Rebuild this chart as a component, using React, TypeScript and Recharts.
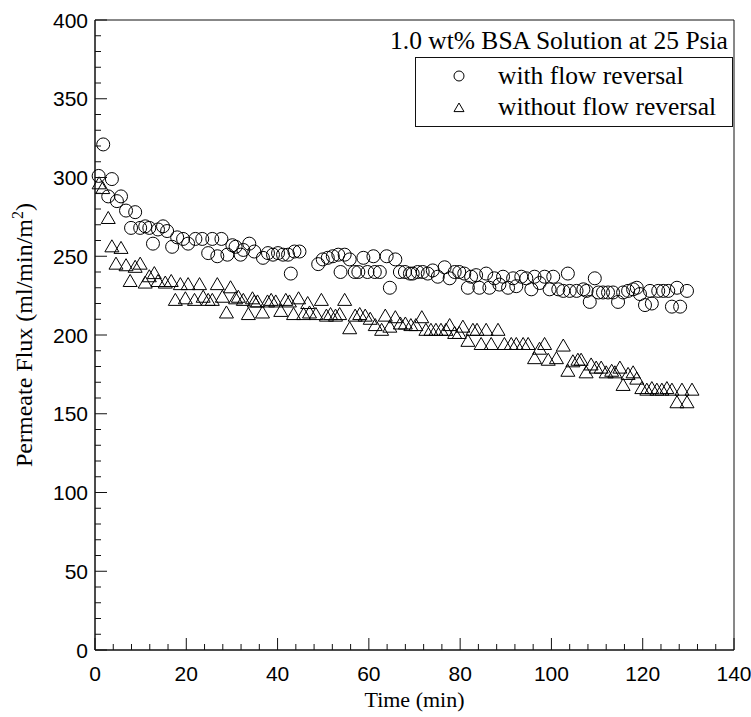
import React from 'react';
import { ScatterChart, Scatter, XAxis, YAxis, ReferenceArea, Legend } from 'recharts';

// with flow reversal (circles)
const withTime = [
  0.8, 1.8, 2.9, 3.7, 4.8, 5.7, 6.8, 7.9, 8.8, 9.9, 11, 11.9, 12.7, 13.8, 14.9, 15.8, 16.9, 18, 19.3, 20.4,
  22, 23.5, 24.8, 25.7, 26.8, 27.7, 29, 30.1, 30.8, 31.9, 32.5, 33.8, 34.9, 36.8, 37.9, 39, 40.1, 41.2, 42.3, 42.9,
  43.7, 44.8, 48.9, 49.9, 51, 52.1, 53.3, 53.8, 54.7, 55.8, 56.9, 57.7, 58.8, 59.7, 61, 61.3, 62.4, 63.9, 64.6, 65.8,
  66.8, 67.9, 69, 69.6, 70.7, 71.8, 72.9, 74, 75.1, 76.6, 77.7, 78.8, 79.8, 80.9, 81.7, 82.4, 83.5, 84.2, 85.7, 86.4,
  87.5, 88.6, 89.4, 90.5, 91.6, 92.3, 93.4, 94.5, 95.6, 96.3, 97.4, 98.5, 99.6, 100.4, 101.5, 102.6, 103.6, 104, 105.5, 107,
  107.7, 108.4, 109.5, 110.3, 111.3, 112.4, 113.5, 114.6, 115.7, 116.8, 117.9, 118.7, 119.4, 120.5, 121.6, 122, 123.4, 124.5, 125.6, 126.4,
  127.5, 128.2, 129.7,
];
const withFlux = [
  301, 321, 288, 299, 285, 288, 279, 268, 278, 268, 269, 268, 258, 267, 269, 266, 256, 262, 261, 258,
  261, 261, 252, 261, 250, 261, 251, 257, 256, 251, 254, 258, 253, 249, 252, 251, 252, 251, 251, 239,
  253, 253, 245, 248, 249, 250, 251, 240, 251, 248, 240, 240, 249, 240, 250, 240, 240, 250, 230, 248,
  240, 240, 239, 239, 240, 240, 239, 241, 237, 243, 236, 240, 240, 239, 230, 237, 238, 230, 239, 230,
  236, 232, 237, 230, 236, 231, 237, 236, 229, 237, 233, 237, 229, 237, 229, 228, 239, 228, 228, 229,
  228, 221, 236, 227, 227, 227, 227, 221, 227, 228, 229, 230, 226, 219, 228, 220, 228, 228, 228, 218,
  230, 218, 228,
];

// without flow reversal (triangles)
const withoutTime = [
  0.9, 1.7, 2.9, 3.7, 4.6, 5.7, 6.8, 7.7, 8.8, 9.9, 11, 11.9, 13, 13.8, 15.4, 16.7, 17.6, 18.7, 19.8, 20.4,
  21.8, 22.9, 23.7, 24.8, 25.7, 26.8, 27.9, 28.8, 29.7, 30.8, 31.4, 32.5, 33.6, 34.5, 34.9, 35.6, 36.7, 37.8, 38.6, 39.6,
  40.7, 41.8, 42.6, 43.5, 44.6, 45.7, 46.6, 47, 48.4, 49.6, 50.7, 51.6, 52.7, 53.6, 54.7, 55.8, 57, 58, 59.2, 60.3,
  61.4, 62.8, 63.6, 64.6, 65.8, 66.9, 68, 69.2, 70.3, 71.6, 72.5, 73.6, 74.7, 75.8, 76.9, 77.7, 78.8, 79.8, 80.6, 81.7,
  82.8, 83.7, 84.6, 85.7, 86.8, 88.3, 89.7, 91.2, 92.3, 93.8, 94.9, 96.3, 97.4, 98.5, 99.3, 101.1, 102.6, 103.6, 104.7, 105.8,
  106.5, 107.6, 108.7, 109.8, 110.9, 112, 113.2, 113.9, 115, 115.7, 116.8, 117.9, 118.7, 119.8, 120.9, 122, 123.1, 124.2, 125.3, 126.4,
  127.5, 128.6, 129.7, 130.8,
];
const withoutFlux = [
  296, 293, 274, 256, 245, 255, 244, 234, 243, 245, 233, 237, 239, 234, 233, 234, 222, 232, 223, 232,
  222, 232, 224, 222, 222, 232, 224, 214, 230, 223, 224, 222, 213, 223, 221, 221, 214, 221, 222, 221,
  215, 222, 221, 213, 223, 213, 220, 214, 213, 222, 212, 213, 212, 213, 222, 204, 212, 213, 212, 210,
  206, 203, 212, 205, 211, 207, 207, 206, 206, 211, 203, 203, 203, 203, 203, 206, 201, 201, 205, 196,
  203, 203, 194, 203, 194, 203, 194, 194, 194, 194, 194, 185, 191, 194, 184, 185, 193, 177, 183, 184,
  184, 176, 181, 179, 179, 176, 177, 176, 179, 168, 175, 176, 172, 166, 165, 166, 165, 165, 166, 165,
  157, 165, 157, 165,
];

const xMajor = [0, 20, 40, 60, 80, 100, 120, 140];
const yMajor = [0, 50, 100, 150, 200, 250, 300, 350, 400];
const xTicks = Array.from({ length: 36 }, (_, i) => i * 4);
const yTicks = Array.from({ length: 41 }, (_, i) => i * 10);

const withData = withTime.map((t, i) => ({ t, v: withFlux[i] }));
const withoutData = withoutTime.map((t, i) => ({ t, v: withoutFlux[i] }));

const SERIF = '"Liberation Serif", "Times New Roman", serif';
const SANS = '"Liberation Sans", Arial, sans-serif';
const INK = '#111';

const XTick = ({ x, y, payload }: any) => {
  const major = xMajor.includes(payload.value);
  return (
    <g>
      <line x1={x} x2={x} y1={y} y2={y - (major ? 12 : 6)} stroke={INK} />
      {major && (
        <text x={x} y={y + 31} textAnchor="middle" fontFamily={SANS} fontSize={21} fill="#000">
          {payload.value}
        </text>
      )}
    </g>
  );
};

const YTick = ({ x, y, payload }: any) => {
  const major = yMajor.includes(payload.value);
  return (
    <g>
      <line x1={x} x2={x + (major ? 12 : 6)} y1={y} y2={y} stroke={INK} />
      {major && (
        <text x={x - 7} y={y + 7.5} textAnchor="end" fontFamily={SANS} fontSize={21} fill="#000">
          {payload.value}
        </text>
      )}
    </g>
  );
};

const CircleMark = ({ cx, cy, r = 6.5 }: any) => (
  <circle cx={cx} cy={cy} r={r} fill="none" stroke="#000" strokeWidth={1} />
);

const TriMark = ({ cx, cy, s = 7 }: any) => (
  <polygon
    points={`${cx},${cy - s} ${cx - s},${cy + s * 0.72} ${cx + s},${cy + s * 0.72}`}
    fill="none"
    stroke="#000"
    strokeWidth={1}
  />
);

const LegendBox = ({ payload }: any) => (
  <div style={{ position: 'relative', width: 751, height: 0 }}>
    <div
      style={{
        position: 'absolute',
        left: 390,
        top: 27,
        fontFamily: SERIF,
        fontSize: 25.5,
        lineHeight: '28px',
        whiteSpace: 'nowrap',
      }}
    >
      1.0 wt% BSA Solution at 25 Psia
    </div>
    <div
      style={{
        position: 'absolute',
        left: 415,
        top: 57,
        width: 318,
        height: 70,
        border: `1px solid ${INK}`,
        boxSizing: 'border-box',
        background: 'white',
      }}
    >
      {(payload || []).map((p: any, i: number) => (
        <div
          key={p.value}
          style={{ position: 'absolute', left: 0, top: 3 + i * 31, height: 30, width: 316 }}
        >
          <svg width={20} height={20} style={{ position: 'absolute', left: 33, top: 5 }}>
            {i === 0 ? <CircleMark cx={10} cy={10} r={5} /> : <TriMark cx={10} cy={11} s={5} />}
          </svg>
          <span
            style={{
              position: 'absolute',
              left: 82,
              top: 0,
              fontFamily: SERIF,
              fontSize: 25.5,
              lineHeight: '30px',
              whiteSpace: 'nowrap',
            }}
          >
            {p.value}
          </span>
        </div>
      ))}
    </div>
  </div>
);

export default function App() {
  return (
    <div style={{ position: 'absolute', left: 0, top: 0, width: 751, height: 717, background: 'white' }}>
      <ScatterChart width={751} height={717} margin={{ top: 20, right: 17, left: 0, bottom: 0 }}>
        <XAxis
          type="number"
          dataKey="t"
          domain={[0, 140]}
          ticks={xTicks}
          interval={0}
          tickSize={0}
          tickMargin={0}
          tickLine={false}
          tick={<XTick />}
          axisLine={{ stroke: INK }}
          height={67}
          label={({ viewBox }: any) => (
            <text
              x={viewBox.x + viewBox.width / 2}
              y={viewBox.y + 57}
              textAnchor="middle"
              fontFamily={SERIF}
              fontSize={22}
              fill="#000"
            >
              Time (min)
            </text>
          )}
        />
        <YAxis
          type="number"
          dataKey="v"
          domain={[0, 400]}
          ticks={yTicks}
          interval={0}
          tickSize={0}
          tickMargin={0}
          tickLine={false}
          tick={<YTick />}
          axisLine={{ stroke: INK }}
          width={95}
          label={({ viewBox }: any) => {
            const cx = 32;
            const cy = viewBox.y + viewBox.height / 2;
            return (
              <text
                x={cx}
                y={cy}
                transform={`rotate(-90, ${cx}, ${cy})`}
                textAnchor="middle"
                fontFamily={SERIF}
                fontSize={24}
                fill="#000"
              >
                <tspan>Permeate Flux (ml/min/m</tspan>
                <tspan dy={-9} fontSize={16}>2</tspan>
                <tspan dy={9}>)</tspan>
              </text>
            );
          }}
        />
        <ReferenceArea x1={0} x2={140} y1={0} y2={400} fill="none" stroke={INK} strokeWidth={1} />
        <Legend
          content={<LegendBox />}
          wrapperStyle={{ position: 'absolute', left: 0, top: 0, width: 751, height: 0 }}
        />
        <Scatter
          name="with flow reversal"
          data={withData}
          shape={<CircleMark />}
          isAnimationActive={false}
        />
        <Scatter
          name="without flow reversal"
          data={withoutData}
          shape={<TriMark />}
          isAnimationActive={false}
        />
      </ScatterChart>
    </div>
  );
}
